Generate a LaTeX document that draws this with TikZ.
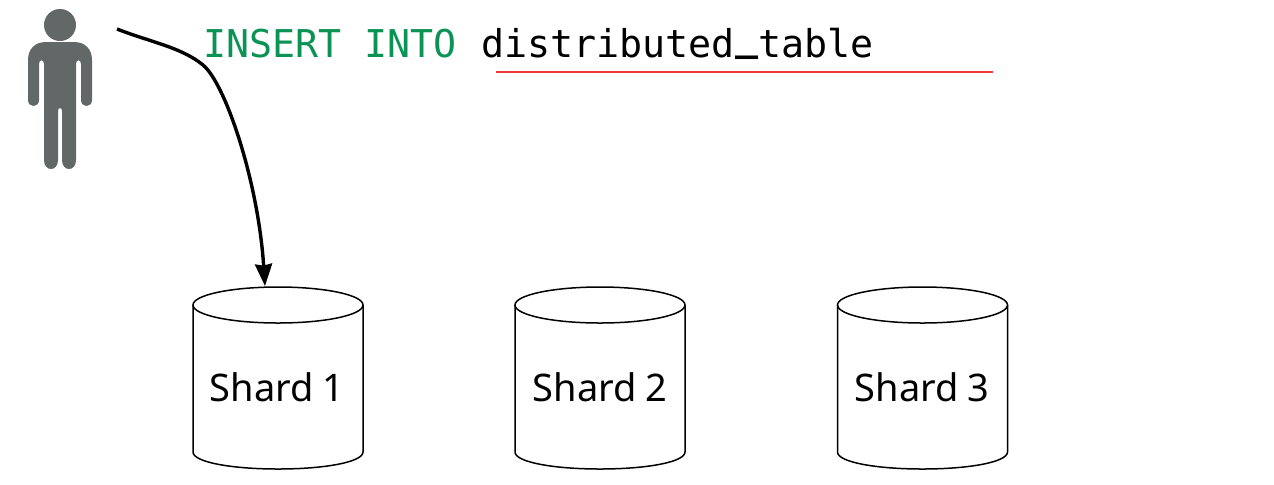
\documentclass[tikz,border=0pt]{standalone}
\usepackage{fontspec}
\setmainfont{Noto Sans}[WordSpace=0.85]
\setmonofont{DejaVu Sans Mono}
\usetikzlibrary{arrows.meta}
\definecolor{sqlgreen}{HTML}{0B9355}
\definecolor{persongray}{HTML}{626868}
\definecolor{redline}{HTML}{F03A3A}
\tikzset{
  shardline/.style={draw=black,line width=0.75pt},
  shardcyl/.pic={
    \draw[shardline] (-85,-73) .. controls (-85,-83) and (-47,-91) .. (0,-91)
      .. controls (47,-91) and (85,-83) .. (85,-73)
      .. controls (85,-63) and (47,-55) .. (0,-55)
      .. controls (-47,-55) and (-85,-63) .. (-85,-73) -- cycle;
    \draw[shardline] (-85,-73) -- (-85,74)
      .. controls (-85,84) and (-47,91) .. (0,91)
      .. controls (47,91) and (85,84) .. (85,74) -- (85,-73);
  },
  shardtext/.style={font=\fontsize{19pt}{22pt}\selectfont,text=black,inner sep=0pt},
  sqltext/.style={font=\ttfamily\fontsize{19.15pt}{22pt}\selectfont,inner sep=0pt,anchor=base west},
  flow/.style={draw=black,line width=1.7pt,-{Stealth[length=11pt,width=8.5pt,inset=0.8pt]}},
}
\begin{document}
\begin{tikzpicture}[x=0.5pt,y=-0.5pt]
\useasboundingbox (0,0) rectangle (1274,484);
% person
\fill[persongray] (60,25) circle (16);
\fill[persongray] (28,60) .. controls (28,49) and (35,42) .. (46,42) -- (74,42)
  .. controls (85,42) and (92,49) .. (92,60) -- (92,100)
  .. controls (92,108) and (81,108) .. (81,100) -- (81,64)
  .. controls (81,59) and (76,59) .. (76,64) -- (76,160)
  .. controls (76,172) and (62,172) .. (62,160) -- (62,111)
  .. controls (62,107) and (58,107) .. (58,111) -- (58,160)
  .. controls (58,172) and (44,172) .. (44,160) -- (44,64)
  .. controls (44,59) and (39,59) .. (39,64) -- (39,100)
  .. controls (39,108) and (28,108) .. (28,100) -- cycle;
% shards
\pic at (278,378) {shardcyl};
\pic at (600,378) {shardcyl};
\pic at (922.5,378) {shardcyl};
\node[shardtext] (t1) at (277,387) {Shard 1};
\node[shardtext] (t2) at (600,387) {Shard 2};
\node[shardtext] (t3) at (922,387) {Shard 3};
% sql
\node[sqltext,text=sqlgreen] (ins) at (203,57.5) {INSERT INTO};
\node[sqltext,text=black] (tbl) at (481,57.5) {distributed\raisebox{3.4pt}{\bfseries\_}table};
\coordinate (ra) at (496,72);
\coordinate (rb) at (993,72);
\draw[redline,line width=0.75pt] (ra) -- (rb);
% arrow
\coordinate (from) at (117,29);
\coordinate (to) at (265,286);
\draw[flow] (from) .. controls (150,42) and (181,47) .. (203,65)
  .. controls (225,83) and (258,180) .. (to);
\end{tikzpicture}
\end{document}
